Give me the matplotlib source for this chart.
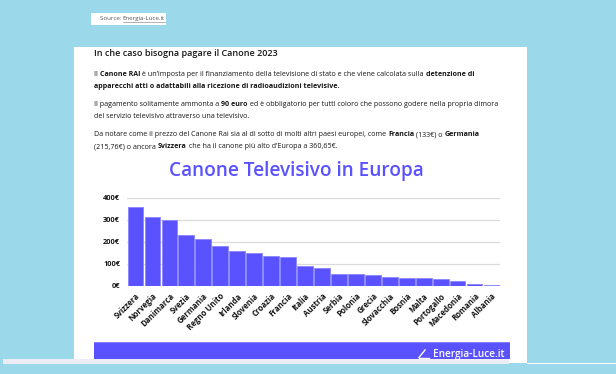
"""
Canone televisivo in Europa: ricostruzione della pagina con grafico a barre.
"""

import matplotlib

matplotlib.use("Agg")
import matplotlib.pyplot as plt
import matplotlib.transforms as mtransforms
from matplotlib.patches import Rectangle

# Dati (canone annuo in euro)
paesi = [
    "Svizzera", "Norvegia", "Danimarca", "Svezia", "Germania", "Regno Unito",
    "Irlanda", "Slovenia", "Croazia", "Francia", "Italia", "Austria",
    "Serbia", "Polonia", "Grecia", "Slovacchia", "Bosnia", "Malta",
    "Portogallo", "Macedonia", "Romania", "Albania",
]
canone = [
    360.65, 315, 302, 232, 215.76, 184,
    160, 152, 136, 133, 90, 84,
    56, 53, 51, 42, 36, 35,
    34, 25, 11, 6,
]
tick_y = [0, 100, 200, 300, 400]
tick_y_label = ["0€", "100€", "200€", "300€", "400€"]

W, H = 616, 374
VIOLA = "#5a52ff"
AZZURRO = "#9bd8ea"
TESTO = "#161616"
FONT = "Open Sans"

fig = plt.figure(figsize=(W / 100, H / 100), dpi=100)
fig.patch.set_facecolor(AZZURRO)
renderer = fig.canvas.get_renderer()


def fx(x):
    return x / W


def fy(y):
    return 1 - y / H


def rett(x0, y0, x1, y1, colore, z=-5):
    fig.patches.append(Rectangle((fx(x0), fy(y1)), fx(x1) - fx(x0),
                                 fy(y0) - fy(y1), transform=fig.transFigure,
                                 facecolor=colore, edgecolor="none", zorder=z))


def riga(x, y, pezzi, size, colore=TESTO):
    """Scrive una riga con pezzi normali e in grassetto, uno dopo l'altro"""
    for testo, grassetto in pezzi:
        t = fig.text(fx(x), fy(y), testo, fontsize=size, color=colore,
                     family=FONT, fontweight="bold" if grassetto else "normal",
                     va="center", ha="left")
        x += t.get_window_extent(renderer).width
    return x


# sfondo della pagina
rett(74, 47, 527, 363, "white")
rett(527, 362.5, 616, 363.5, "white")
rett(91, 13, 166, 25, "white")

# fonte
x_fine = riga(99.5, 18.5, [("Source: ", False)], 4.4, "#555555")
t = fig.text(fx(x_fine), fy(18.5), "Energia-Luce.it", fontsize=4.4,
             color="#555555", family=FONT, va="center", ha="left")
larg = t.get_window_extent(renderer).width
fig.lines.append(plt.Line2D([fx(x_fine), fx(x_fine + larg)],
                            [fy(21.6), fy(21.6)], color="#777777", lw=0.4,
                            transform=fig.transFigure))

# testo dell'articolo
fig.text(fx(94), fy(54), "In che caso bisogna pagare il Canone 2023",
         fontsize=6.5, color=TESTO, family=FONT, fontweight="semibold",
         va="center", ha="left")

corpo = 5.1
righe = [
    (74, [("Il ", False), ("Canone RAI", True),
          (" è un’imposta per il finanziamento della televisione di stato e "
           "che viene calcolata sulla ", False), ("detenzione di", True)]),
    (86, [("apparecchi atti o adattabili alla ricezione di radioaudizioni "
           "televisive.", True)]),
    (104.5, [("Il pagamento solitamente ammonta a ", False), ("90 euro", True),
             (" ed è obbligatorio per tutti coloro che possono godere nella "
              "propria dimora", False)]),
    (116.5, [("del servizio televisivo attraverso una televisivo.", False)]),
    (135, [("Da notare come il prezzo del Canone Rai sia al di sotto di molti "
            "altri paesi europei, come ", False), ("Francia", True),
           (" (133€) o ", False), ("Germania", True)]),
    (146.5, [("(215,76€) o ancora ", False), ("Svizzera", True),
             (" che ha il canone più alto d’Europa a 360,65€.", False)]),
]
for y, pezzi in righe:
    riga(94, y, pezzi, corpo)

# titolo del grafico
fig.text(fx(296), fy(171), "Canone Televisivo in Europa", fontsize=13.7,
         color=VIOLA, family=FONT, fontweight="semibold",
         va="center", ha="center")

# grafico a barre
ax = fig.add_axes([fx(127), fy(286), fx(500) - fx(127), fy(198) - fy(286)])
ax.set_facecolor("none")
pos = list(range(len(paesi)))
ax.bar(pos, canone, width=0.93, color=VIOLA, edgecolor="#8a85ff",
       linewidth=0.6, zorder=3)
ax.set_xlim(-0.5, len(paesi) - 0.5)
ax.set_ylim(0, 400)
ax.set_yticks(tick_y)
ax.set_yticklabels(tick_y_label, fontsize=5.3, fontweight="bold",
                   family=FONT, color=TESTO)
ax.set_xticks(pos)
ax.set_xticklabels(paesi, rotation=45, ha="right", va="top",
                   rotation_mode="anchor", fontsize=5.7, fontweight="bold",
                   family=FONT, color=TESTO)
spost = mtransforms.ScaledTranslation(2.5 / 100, 0, fig.dpi_scale_trans)
for etichetta in ax.get_xticklabels():
    etichetta.set_transform(etichetta.get_transform() + spost)
ax.tick_params(axis="both", length=0)
ax.tick_params(axis="y", pad=5)
ax.tick_params(axis="x", pad=4)
ax.grid(axis="y", color="#dadada", linewidth=0.9, zorder=0)
for lato in ax.spines.values():
    lato.set_visible(False)

# barra in fondo con il logo
rett(94, 342, 510, 359, VIOLA, z=1)
rett(94, 342, 510, 343, "#8580ff", z=1)
rett(3, 359, 509, 364, "#ececf5", z=1)
fig.lines.append(plt.Line2D([fx(419), fx(425)], [fy(357.5), fy(350)],
                            color="white", lw=1.0, transform=fig.transFigure,
                            zorder=2))
fig.lines.append(plt.Line2D([fx(419), fx(429)], [fy(357.5), fy(357.5)],
                            color="white", lw=1.0, transform=fig.transFigure,
                            zorder=2))
fig.text(fx(504), fy(355), "Energia-Luce.it", fontsize=7.2, color="white",
         family=FONT, fontweight="semibold", va="center", ha="right")

fig.savefig("out.png", dpi=100, facecolor=fig.get_facecolor())
